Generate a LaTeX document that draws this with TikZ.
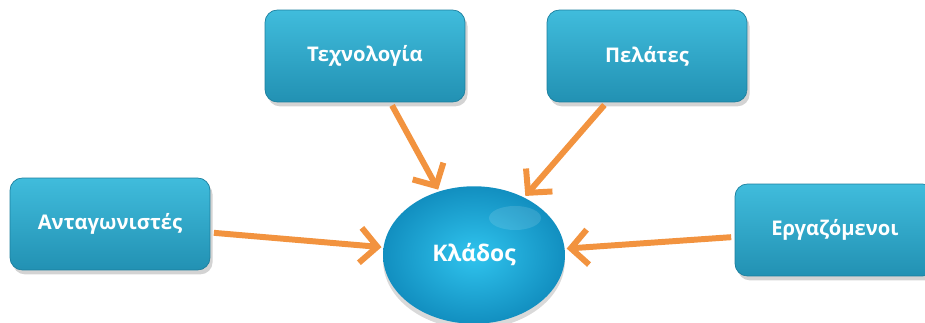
\documentclass[tikz,border=0pt]{standalone}
\usepackage{fontspec}
\setsansfont{Open Sans}
\usepackage{tikz}
\usetikzlibrary{positioning, shapes, arrows.meta, shadows}

\definecolor{boxtop}{HTML}{40BCDC}
\definecolor{boxbot}{HTML}{2291B3}
\definecolor{boxedge}{HTML}{1C7F9E}
\definecolor{ballin}{HTML}{30C4EE}
\definecolor{ballout}{HTML}{128FC0}
\definecolor{arroworange}{HTML}{F2933F}

\tikzset{
  factor/.style={rectangle, rounded corners=7pt, draw=boxedge, line width=0.4pt,
    top color=boxtop, bottom color=boxbot, minimum width=4cm, minimum height=1.84cm,
    text=white, font=\sffamily\bfseries\fontsize{11.5}{14}\selectfont,
    drop shadow={opacity=0.35, shadow xshift=1.5pt, shadow yshift=-2.5pt}},
  sector/.style={ellipse, inner color=ballin, outer color=ballout,
    minimum width=3.64cm, minimum height=2.75cm,
    text=white, font=\sffamily\bfseries\fontsize{13}{15}\selectfont,
    drop shadow={opacity=0.3, shadow xshift=0pt, shadow yshift=-3pt}},
  force/.style={draw=arroworange, line width=3.4pt,
    -{Straight Barb[length=3.4mm, width=7mm]}, shorten <=2pt, shorten >=1pt}
}

\begin{document}
\begin{tikzpicture}[x=0.02cm, y=-0.02cm]
  \useasboundingbox (0,0) rectangle (925,323);
  % Forces round the sector
  \node[factor] (tech) at (365,56) {Τεχνολογία};
  \node[factor] (clients) at (647,56) {Πελάτες};
  \node[factor] (rivals) at (110,224) {Ανταγωνιστές};
  \node[factor] (staff) at (835,230) {Εργαζόμενοι};
  % Sector
  \node[sector] (sector) at (474,255) {Κλάδος};
  \fill[white, opacity=0.12] (515,218) ellipse (26 and 12);
  % Arrows
  \draw[force] (tech) -- (sector);
  \draw[force] (clients) -- (sector);
  \draw[force] (rivals) -- (sector);
  \draw[force] (staff) -- (sector);
\end{tikzpicture}
\end{document}
